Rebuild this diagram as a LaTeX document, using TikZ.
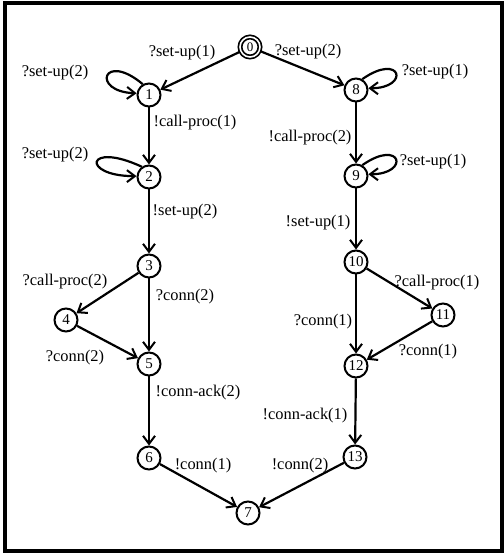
\documentclass[tikz,border=0pt]{standalone}
\usepackage{fontspec}
\setmainfont{Liberation Serif}
\usetikzlibrary{arrows.meta}
\begin{document}
\begin{tikzpicture}[x=1pt,y=1pt,
  st/.style={circle,draw,line width=2pt,minimum size=23pt,inner sep=0pt,font=\fontsize{15}{15}\selectfont},
  lbl/.style={inner sep=0pt,font=\fontsize{16.4}{19}\selectfont},
  arr/.style={line width=2.2pt,-{Straight Barb[length=8pt,width=12pt,line width=2pt]}}]
\useasboundingbox (0,0) rectangle (504,555);
\draw[line width=4pt] (4.5,4) rectangle (502,551.5);
% states
\node[st,double,double distance=1.6pt,line width=1.7pt,minimum size=20pt,font=\fontsize{13}{13}\selectfont] (n0) at (250,508) {0};
\node[st] (n1) at (149,460) {1};
\node[st] (n2) at (149,378) {2};
\node[st] (n3) at (149,289) {3};
\node[st] (n4) at (66,235) {4};
\node[st] (n5) at (149,191) {5};
\node[st] (n6) at (149,97) {6};
\node[st] (n7) at (248,42) {7};
\node[st] (n8) at (356,465) {8};
\node[st] (n9) at (356,379) {9};
\node[st] (n10) at (356,293) {10};
\node[st] (n11) at (443,240) {11};
\node[st] (n12) at (356,189) {12};
\node[st] (n13) at (355,98) {13};
% transitions
\draw[arr] (n0) -- (n1);
\draw[arr] (n0) -- (n8);
\draw[arr] (n1) -- (n2);
\draw[arr] (n2) -- (n3);
\draw[arr] (n3) -- (n4);
\draw[arr] (n3) -- (n5);
\draw[arr] (n4) -- (n5);
\draw[arr] (n5) -- (n6);
\draw[arr] (n6) -- (n7);
\draw[arr] (n8) -- (n9);
\draw[arr] (n9) -- (n10);
\draw[arr] (n10) -- (n11);
\draw[arr] (n10) -- (n12);
\draw[arr] (n11) -- (n12);
\draw[arr] (n12) -- (n13);
\draw[arr] (n13) -- (n7);
% self loops
\draw[arr] (n1.120) .. controls +(140:52) and +(178:46) .. (n1.172);
\draw[arr] (n2.125) .. controls +(155:62) and +(180:56) .. (n2.176);
\draw[arr] (n8.60) .. controls +(35:48) and +(0:42) .. (n8.8);
\draw[arr] (n9.60) .. controls +(35:48) and +(0:42) .. (n9.8);
% labels
\node[lbl] (l01) at (182,502) {?set-up(1)};
\node[lbl] (l08) at (308,503) {?set-up(2)};
\node[lbl] (l11) at (55,482) {?set-up(2)};
\node[lbl] (l12) at (195,432) {!call-proc(1)};
\node[lbl] (l22) at (55,400) {?set-up(2)};
\node[lbl] (l89) at (310,417) {!call-proc(2)};
\node[lbl] (l88) at (435,483) {?set-up(1)};
\node[lbl] (l99) at (433,393) {?set-up(1)};
\node[lbl] (l23) at (185,343) {!set-up(2)};
\node[lbl] (l910) at (318,332) {!set-up(1)};
\node[lbl] (l34) at (65,273) {?call-proc(2)};
\node[lbl] (l35) at (185,258) {?conn(2)};
\node[lbl] (l45) at (75,197) {?conn(2)};
\node[lbl] (l1012) at (323,233) {?conn(1)};
\node[lbl] (l1011) at (437,272) {?call-proc(1)};
\node[lbl] (l1112) at (428,203) {?conn(1)};
\node[lbl] (l56) at (198,162) {!conn-ack(2)};
\node[lbl] (l1213) at (305,139) {!conn-ack(1)};
\node[lbl] (l67) at (203,89) {!conn(1)};
\node[lbl] (l137) at (300,89) {!conn(2)};
\end{tikzpicture}
\end{document}
